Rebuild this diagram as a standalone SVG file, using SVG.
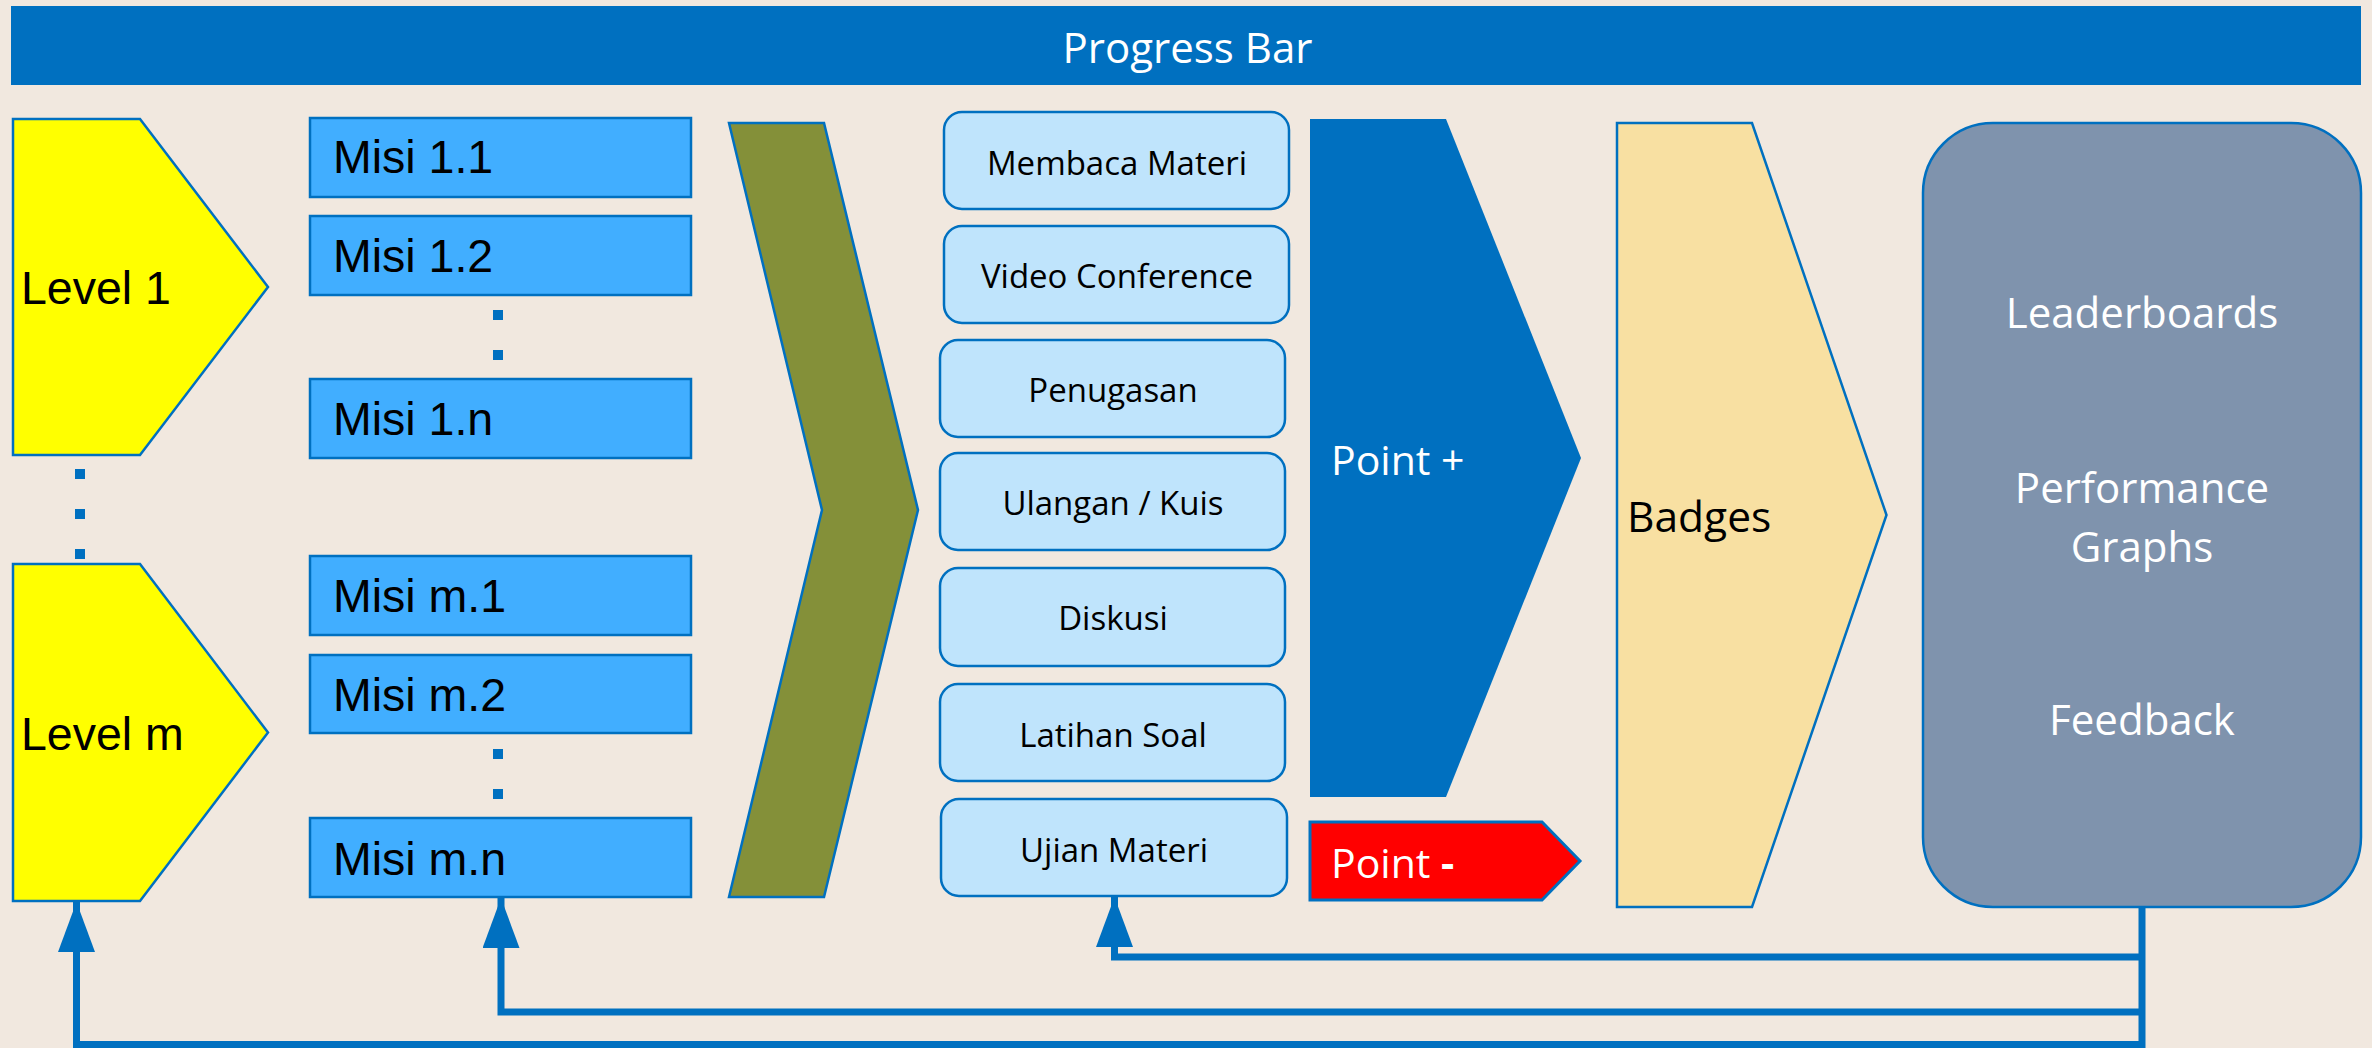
<svg xmlns="http://www.w3.org/2000/svg" width="2372" height="1048" viewBox="0 0 2372 1048">
  <style>
    .bg { fill: #F1E8DF; }
    .level { fill: #FFFF00; stroke: #0070C0; stroke-width: 2.5; }
    .misi { fill: #41AEFF; stroke: #0070C0; stroke-width: 2.5; }
    .dot { fill: #0070C0; }
    .act { fill: #BFE4FC; stroke: #0070C0; stroke-width: 2.5; }
    .arial { font-family: "Liberation Sans", Arial, sans-serif; font-size: 46.5px; fill: #000; }
    .acttxt { font-family: "Open Sans", "Noto Sans", sans-serif; font-size: 33px; fill: #000; text-anchor: middle; }
    .white { font-family: "Open Sans", "Noto Sans", sans-serif; font-size: 41px; fill: #FFFFFF; }
    .panel { font-family: "Open Sans", "Noto Sans", sans-serif; font-size: 42px; fill: #FFFFFF; text-anchor: middle; }
    .conn { fill: none; stroke: #0070C0; stroke-width: 7; stroke-linejoin: miter; }
  </style>
  <defs>
    <marker id="arrow" viewBox="0 0 50 37" refX="50" refY="18.5" markerWidth="50" markerHeight="37" markerUnits="userSpaceOnUse" orient="auto">
      <path d="M0,0 L50,18.5 L0,37 z" fill="#0070C0"/>
    </marker>
  </defs>

  <rect class="bg" x="0" y="0" width="2372" height="1048"/>

  <g id="progress-bar">
    <rect x="11" y="6" width="2350" height="79" fill="#0070C0"/>
    <text x="1187.5" y="63" font-family="Open Sans, Noto Sans, sans-serif" font-size="42" fill="#FFFFFF" text-anchor="middle">Progress Bar</text>
  </g>

  <g id="level-1">
    <polygon class="level" points="13,119 140,119 268,287 140,455 13,455"/>
    <text class="arial" x="21" y="304">Level 1</text>
  </g>
  <g id="level-dots">
    <rect class="dot" x="75" y="469" width="10" height="10"/>
    <rect class="dot" x="75" y="509" width="10" height="10"/>
    <rect class="dot" x="75" y="549" width="10" height="10"/>
  </g>
  <g id="level-m">
    <polygon class="level" points="13,564 140,564 268,732.5 140,901 13,901"/>
    <text class="arial" x="21" y="750">Level m</text>
  </g>

  <g id="misi-1-1">
    <rect class="misi" x="310" y="118" width="381" height="79"/>
    <text class="arial" x="333" y="173">Misi 1.1</text>
  </g>
  <g id="misi-1-2">
    <rect class="misi" x="310" y="216" width="381" height="79"/>
    <text class="arial" x="333" y="272">Misi 1.2</text>
  </g>
  <g id="misi-1-dots">
    <rect class="dot" x="493" y="310" width="10" height="10"/>
    <rect class="dot" x="493" y="350" width="10" height="10"/>
  </g>
  <g id="misi-1-n">
    <rect class="misi" x="310" y="379" width="381" height="79"/>
    <text class="arial" x="333" y="435">Misi 1.n</text>
  </g>
  <g id="misi-m-1">
    <rect class="misi" x="310" y="556" width="381" height="79"/>
    <text class="arial" x="333" y="612">Misi m.1</text>
  </g>
  <g id="misi-m-2">
    <rect class="misi" x="310" y="655" width="381" height="78"/>
    <text class="arial" x="333" y="711">Misi m.2</text>
  </g>
  <g id="misi-m-dots">
    <rect class="dot" x="493" y="749" width="10" height="10"/>
    <rect class="dot" x="493" y="789" width="10" height="10"/>
  </g>
  <g id="misi-m-n">
    <rect class="misi" x="310" y="818" width="381" height="79"/>
    <text class="arial" x="333" y="875">Misi m.n</text>
  </g>

  <g id="chevron">
    <polygon points="729,123 824,123 918,510 824,897 729,897 822,510" fill="#849039" stroke="#0070C0" stroke-width="2.5"/>
  </g>

  <g id="membaca-materi">
    <rect class="act" x="944" y="112" width="345" height="97" rx="18"/>
    <text class="acttxt" x="1117" y="175">Membaca Materi</text>
  </g>
  <g id="video-conference">
    <rect class="act" x="944" y="226" width="345" height="97" rx="18"/>
    <text class="acttxt" x="1117" y="288">Video Conference</text>
  </g>
  <g id="penugasan">
    <rect class="act" x="940" y="340" width="345" height="97" rx="18"/>
    <text class="acttxt" x="1113" y="402">Penugasan</text>
  </g>
  <g id="ulangan-kuis">
    <rect class="act" x="940" y="453" width="345" height="97" rx="18"/>
    <text class="acttxt" x="1113" y="515">Ulangan / Kuis</text>
  </g>
  <g id="diskusi">
    <rect class="act" x="940" y="568" width="345" height="98" rx="18"/>
    <text class="acttxt" x="1113" y="630">Diskusi</text>
  </g>
  <g id="latihan-soal">
    <rect class="act" x="940" y="684" width="345" height="97" rx="18"/>
    <text class="acttxt" x="1113" y="747">Latihan Soal</text>
  </g>
  <g id="ujian-materi">
    <rect class="act" x="941" y="799" width="346" height="97" rx="18"/>
    <text class="acttxt" x="1114" y="862">Ujian Materi</text>
  </g>

  <g id="point-plus">
    <polygon points="1310,119 1446,119 1581,458 1446,797 1310,797" fill="#0070C0"/>
    <text class="white" x="1331" y="475">Point +</text>
  </g>
  <g id="point-minus">
    <polygon points="1310,822 1542,822 1580,861 1542,900 1310,900" fill="#FF0000" stroke="#0070C0" stroke-width="3"/>
    <text class="white" x="1331" y="878">Point <tspan font-weight="700">-</tspan></text>
  </g>

  <g id="badges">
    <polygon points="1617,123 1752,123 1886.5,515 1752,907 1617,907" fill="#F8E0A2" stroke="#0070C0" stroke-width="2.5"/>
    <text x="1627" y="532" font-family="Open Sans, Noto Sans, sans-serif" font-size="42.5" fill="#000">Badges</text>
  </g>

  <g id="feedback-panel">
    <rect x="1923" y="123" width="438" height="784" rx="70" ry="70" fill="#7F93AD" stroke="#0070C0" stroke-width="2.5"/>
    <text class="panel" x="2142" y="328">Leaderboards</text>
    <text class="panel" x="2142" y="503">Performance</text>
    <text class="panel" x="2142" y="562">Graphs</text>
    <text class="panel" x="2142" y="735">Feedback</text>
  </g>

  <g id="connectors">
    <path class="conn" d="M2142,907 V1044.5 H76.5 V902" marker-end="url(#arrow)"/>
    <path class="conn" d="M2142,1012 H501 V898" marker-end="url(#arrow)"/>
    <path class="conn" d="M2142,957 H1114.5 V897" marker-end="url(#arrow)"/>
  </g>
</svg>
